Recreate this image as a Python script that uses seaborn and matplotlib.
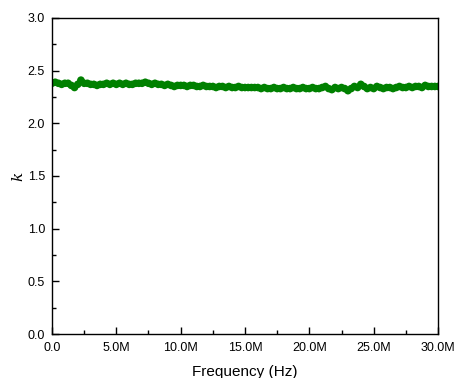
import matplotlib
matplotlib.use("Agg")
import matplotlib.pyplot as plt
import matplotlib.ticker as mticker
import numpy as np
import pandas as pd
import seaborn as sns

# frequency samples (Hz), 0.25 MHz apart
freq = np.arange(0, 121) * 0.25e6
k_vals = [
    2.38, 2.39, 2.38, 2.37, 2.38, 2.38, 2.36, 2.34, 2.37, 2.41,
    2.38, 2.38, 2.37, 2.37, 2.36, 2.37, 2.37, 2.38, 2.37, 2.38,
    2.37, 2.38, 2.37, 2.38, 2.37, 2.37, 2.38, 2.38, 2.38, 2.39,
    2.38, 2.37, 2.38, 2.37, 2.37, 2.36, 2.37, 2.36, 2.35, 2.36,
    2.36, 2.36, 2.35, 2.36, 2.36, 2.35, 2.35, 2.36, 2.35, 2.35,
    2.35, 2.34, 2.35, 2.35, 2.34, 2.35, 2.34, 2.34, 2.35, 2.34,
    2.34, 2.34, 2.34, 2.34, 2.34, 2.33, 2.34, 2.33, 2.33, 2.34,
    2.33, 2.33, 2.34, 2.33, 2.33, 2.34, 2.33, 2.33, 2.34, 2.33,
    2.33, 2.34, 2.33, 2.33, 2.34, 2.35, 2.33, 2.32, 2.34, 2.33,
    2.34, 2.33, 2.31, 2.33, 2.35, 2.34, 2.37, 2.35, 2.33, 2.34,
    2.33, 2.35, 2.34, 2.33, 2.34, 2.34, 2.33, 2.34, 2.35, 2.34,
    2.34, 2.35, 2.34, 2.35, 2.35, 2.34, 2.36, 2.35, 2.35, 2.35,
    2.35,
]
df = pd.DataFrame({"freq": freq, "k": k_vals})

sns.set_style("ticks")
plt.rcParams['font.family'] = ['Liberation Sans', 'DejaVu Sans']
plt.rcParams['text.color'] = 'black'
plt.rcParams['axes.labelcolor'] = 'black'
plt.rcParams['xtick.color'] = 'black'
plt.rcParams['ytick.color'] = 'black'

fig = plt.figure(figsize=(4.54, 3.78), dpi=100)
ax = fig.add_axes([0.1145, 0.1164, 0.8503, 0.836])

sns.lineplot(x="freq", y="k", data=df, color="#008000", lw=4, ax=ax)
sns.scatterplot(x="freq", y="k", data=df, color="#008000", s=30,
                edgecolor="none", ax=ax)

ax.set_xlim(0, 30e6)
ax.set_ylim(0, 3.0)
ax.xaxis.set_major_locator(mticker.MultipleLocator(5e6))
ax.xaxis.set_minor_locator(mticker.MultipleLocator(2.5e6))
ax.yaxis.set_major_locator(mticker.MultipleLocator(0.5))
ax.yaxis.set_minor_locator(mticker.MultipleLocator(0.25))
ax.xaxis.set_major_formatter(mticker.FuncFormatter(
    lambda v, p: "0.0" if v == 0 else f"{v/1e6:.1f}M"))
ax.yaxis.set_major_formatter(mticker.FormatStrFormatter("%.1f"))
ax.tick_params(which="both", direction="in", labelsize=9, top=False, right=False)
ax.tick_params(axis="x", pad=6)
ax.tick_params(axis="y", pad=5)
ax.tick_params(which="major", length=5, width=1)
ax.tick_params(which="minor", length=3, width=1)
for s in ax.spines.values():
    s.set_linewidth(1)
    s.set_color("black")

ax.set_xlabel("Frequency (Hz)", fontsize=11, labelpad=8)
ax.set_ylabel("k", fontsize=11, family="DejaVu Serif", style="italic", labelpad=2)

fig.savefig("out.png", dpi=100)
